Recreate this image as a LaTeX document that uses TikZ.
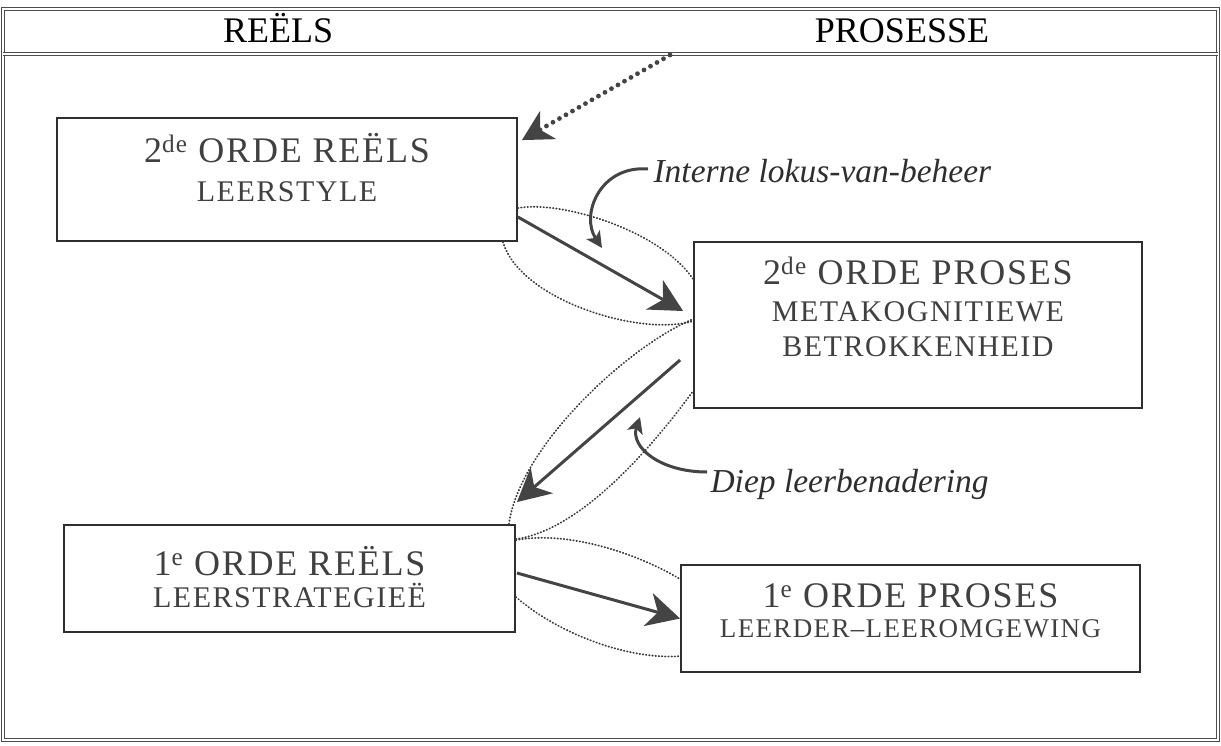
\documentclass[tikz,border=0pt]{standalone}
\usepackage{fontspec}
\setmainfont{Liberation Serif}
\newfontfamily\boxfont{Liberation Serif}[LetterSpace=5]
\usetikzlibrary{arrows.meta,calc}

\definecolor{ink}{HTML}{2E2E2E}
\definecolor{boxtext}{HTML}{404040}
\definecolor{arrowgray}{HTML}{444444}
\definecolor{dotgray}{HTML}{3C3C3C}

\begin{document}
\begin{tikzpicture}[x=1pt,y=-1pt,
  panel/.style={draw=ink, line width=1.8pt, fill=white, inner sep=0pt},
  frameline/.style={draw=ink!85, line width=0.9pt, double=white, double distance=1.4pt},
  headtext/.style={font=\fontsize{36}{40}\selectfont, text=black, anchor=base},
  bigline/.style={font=\boxfont\fontsize{36}{40}\selectfont, text=boxtext, anchor=base},
  smallline/.style={font=\boxfont\fontsize{30}{34}\selectfont, text=boxtext, anchor=base},
  remark/.style={font=\itshape\fontsize{33.5}{37}\selectfont, text=ink, anchor=base west},
  flow/.style={draw=arrowgray, line width=3pt, -{Stealth[length=33pt,width=34pt,inset=10pt]}},
  pointer/.style={draw=arrowgray, line width=3pt, -{Stealth[length=16pt,width=16pt,inset=4pt]}},
  lens/.style={draw=dotgray, line width=1.8pt, dash pattern=on 0.6pt off 2.6pt, line cap=round},
  feed/.style={draw=arrowgray, line width=4.8pt, line cap=round, dash pattern=on 0pt off 7.5pt,
    -{Stealth[length=30pt,width=32pt,inset=9pt]}},
]
\useasboundingbox (0,0) rectangle (1221,745);

% outer frame and header rule
\draw[frameline] (3,9) rectangle (1218,740);
\coordinate (ruleL) at (3,54);
\coordinate (ruleR) at (1218,54);
\draw[frameline] (ruleL) -- (ruleR);

% column headings
\node[headtext] (hReels) at (278,42) {REËLS};
\node[headtext] (hProsesse) at (902,42) {PROSESSE};

% boxes
\node[panel, minimum width=460pt, minimum height=123pt] (boxA) at (287,179.5) {};
\node[panel, minimum width=448pt, minimum height=166pt] (boxB) at (918,325) {};
\node[panel, minimum width=451pt, minimum height=107pt] (boxC) at (289.5,578.5) {};
\node[panel, minimum width=459pt, minimum height=107pt] (boxD) at (910.5,618.5) {};

% dotted lenses between the boxes
\draw[lens] ($(boxA.north east)+(0,91)$) .. controls (560,200) and (660,230) .. ($(boxB.north west)+(0,38)$);
\draw[lens] ($(boxA.south east)+(-15,0)$) .. controls (520,300) and (640,337) .. ($(boxB.north west)+(0,80)$);
\draw[lens] ($(boxC.north east)+(-7,0)$) .. controls (520,445) and (630,345) .. ($(boxB.north west)+(0,78)$);
\draw[lens] ($(boxC.north east)+(0,15)$) .. controls (580,530) and (650,450) .. ($(boxB.north west)+(0,150)$);
\draw[lens] ($(boxC.north east)+(0,16)$) .. controls (570,530) and (640,555) .. ($(boxD.north west)+(0,15)$);
\draw[lens] ($(boxC.north east)+(0,73)$) .. controls (560,635) and (630,660) .. ($(boxD.north west)+(0,92)$);

% box texts
\node[bigline] (a1) at (287,162) {2\textsuperscript{de} ORDE REËLS};
\node[smallline] (a2) at (287,201) {LEERSTYLE};

\node[bigline] (b1) at (918,284) {2\textsuperscript{de} ORDE PROSES};
\node[smallline] (b2) at (918,321) {METAKOGNITIEWE};
\node[smallline] (b3) at (918,356) {BETROKKENHEID};

\node[bigline] (c1) at (289.5,575) {1\textsuperscript{e} ORDE REËLS};
\node[smallline] (c2) at (289.5,607) {LEERSTRATEGIEË};

\node[bigline] (d1) at (910.5,607) {1\textsuperscript{e} ORDE PROSES};
\node[smallline, font=\boxfont\fontsize{27}{30}\selectfont] (d2) at (910.5,637) {LEERDER–LEEROMGEWING};

% main flow arrows
\draw[flow] ($(boxA.east)+(0,37.5)$) -- ($(boxB.west)+(-10,-14)$);
\draw[flow] ($(boxB.west)+(-13,35)$) -- ($(boxC.north east)+(1,-22)$);
\draw[flow] ($(boxC.east)+(1,-5.5)$) -- (boxD.west);

% dotted arrow from the header rule
\coordinate (feedsrc) at (670,55);
\draw[feed] (feedsrc) -- ($(boxA.north east)+(4,23)$);

% remarks with curved pointers
\node[remark] (intern) at (650,182) {Interne lokus-van-beheer};
\node[remark] (diep) at (707,492) {Diep leerbenadering};
\coordinate (internTip) at (602,248);
\coordinate (diepTip) at (640,417);
\draw[pointer] ($(intern.base west)+(-2,-13)$) .. controls (600,165) and (580,215) .. (internTip);
\draw[pointer] ($(diep.base west)+(0,-20)$) .. controls (660,472) and (630,447) .. (diepTip);
\end{tikzpicture}
\end{document}
